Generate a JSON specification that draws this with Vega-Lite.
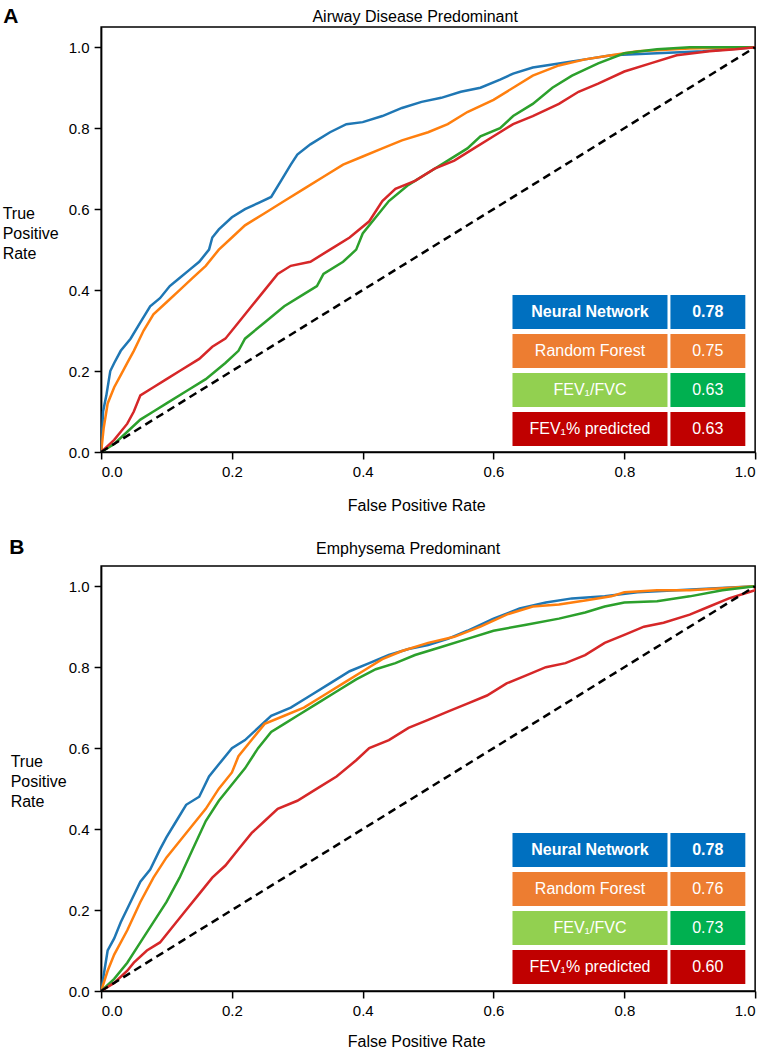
{
  "$schema": "https://vega.github.io/schema/vega-lite/v6.json",
  "padding": {"left": 1, "top": 5, "right": 5, "bottom": 3},
  "config": {
    "font": "Liberation Sans",
    "view": {"stroke": "black", "strokeWidth": 1.5},
    "axis": {"grid": false, "domainColor": "black", "domainWidth": 1.5, "tickColor": "black", "tickWidth": 1.5, "tickSize": 7, "labelColor": "black", "labelFontSize": 15, "labelPadding": 5, "titleColor": "black", "titleFontSize": 16, "titleFontWeight": "normal"},
    "title": {"fontSize": 16, "fontWeight": "normal", "color": "black"}
  },
  "datasets": {
    "diag": [{"fpr": 0, "tpr": 0}, {"fpr": 1, "tpr": 1}],
    "tableA": [
      {"model": "Neural Network", "auc": 0.78},
      {"model": "Random Forest", "auc": 0.75},
      {"model": "FEV₁/FVC", "auc": 0.63},
      {"model": "FEV₁% predicted", "auc": 0.63}
    ],
    "tableB": [
      {"model": "Neural Network", "auc": 0.78},
      {"model": "Random Forest", "auc": 0.76},
      {"model": "FEV₁/FVC", "auc": 0.73},
      {"model": "FEV₁% predicted", "auc": 0.60}
    ],
    "rocA": [
      {"model": "Neural Network", "fpr": 0, "tpr": 0},
      {"model": "Neural Network", "fpr": 0.003, "tpr": 0.1},
      {"model": "Neural Network", "fpr": 0.008, "tpr": 0.14},
      {"model": "Neural Network", "fpr": 0.014, "tpr": 0.2},
      {"model": "Neural Network", "fpr": 0.02, "tpr": 0.22},
      {"model": "Neural Network", "fpr": 0.03, "tpr": 0.25},
      {"model": "Neural Network", "fpr": 0.045, "tpr": 0.28},
      {"model": "Neural Network", "fpr": 0.06, "tpr": 0.32},
      {"model": "Neural Network", "fpr": 0.075, "tpr": 0.36},
      {"model": "Neural Network", "fpr": 0.09, "tpr": 0.38},
      {"model": "Neural Network", "fpr": 0.105, "tpr": 0.41},
      {"model": "Neural Network", "fpr": 0.12, "tpr": 0.43},
      {"model": "Neural Network", "fpr": 0.135, "tpr": 0.45},
      {"model": "Neural Network", "fpr": 0.15, "tpr": 0.47},
      {"model": "Neural Network", "fpr": 0.165, "tpr": 0.5},
      {"model": "Neural Network", "fpr": 0.17, "tpr": 0.53},
      {"model": "Neural Network", "fpr": 0.18, "tpr": 0.55},
      {"model": "Neural Network", "fpr": 0.2, "tpr": 0.58},
      {"model": "Neural Network", "fpr": 0.22, "tpr": 0.6},
      {"model": "Neural Network", "fpr": 0.24, "tpr": 0.615},
      {"model": "Neural Network", "fpr": 0.26, "tpr": 0.63},
      {"model": "Neural Network", "fpr": 0.275, "tpr": 0.67},
      {"model": "Neural Network", "fpr": 0.29, "tpr": 0.71},
      {"model": "Neural Network", "fpr": 0.3, "tpr": 0.735},
      {"model": "Neural Network", "fpr": 0.32, "tpr": 0.76},
      {"model": "Neural Network", "fpr": 0.35, "tpr": 0.79},
      {"model": "Neural Network", "fpr": 0.375, "tpr": 0.81},
      {"model": "Neural Network", "fpr": 0.4, "tpr": 0.815},
      {"model": "Neural Network", "fpr": 0.43, "tpr": 0.83},
      {"model": "Neural Network", "fpr": 0.46, "tpr": 0.85},
      {"model": "Neural Network", "fpr": 0.49, "tpr": 0.865},
      {"model": "Neural Network", "fpr": 0.52, "tpr": 0.875},
      {"model": "Neural Network", "fpr": 0.55, "tpr": 0.89},
      {"model": "Neural Network", "fpr": 0.58, "tpr": 0.9},
      {"model": "Neural Network", "fpr": 0.61, "tpr": 0.92},
      {"model": "Neural Network", "fpr": 0.63, "tpr": 0.935},
      {"model": "Neural Network", "fpr": 0.66, "tpr": 0.95},
      {"model": "Neural Network", "fpr": 0.7, "tpr": 0.96},
      {"model": "Neural Network", "fpr": 0.74, "tpr": 0.97},
      {"model": "Neural Network", "fpr": 0.78, "tpr": 0.98},
      {"model": "Neural Network", "fpr": 0.85, "tpr": 0.985},
      {"model": "Neural Network", "fpr": 0.92, "tpr": 0.99},
      {"model": "Neural Network", "fpr": 1, "tpr": 1},
      {"model": "Random Forest", "fpr": 0, "tpr": 0},
      {"model": "Random Forest", "fpr": 0.004, "tpr": 0.06},
      {"model": "Random Forest", "fpr": 0.01, "tpr": 0.12},
      {"model": "Random Forest", "fpr": 0.02, "tpr": 0.16},
      {"model": "Random Forest", "fpr": 0.03, "tpr": 0.19},
      {"model": "Random Forest", "fpr": 0.04, "tpr": 0.22},
      {"model": "Random Forest", "fpr": 0.05, "tpr": 0.25},
      {"model": "Random Forest", "fpr": 0.065, "tpr": 0.3},
      {"model": "Random Forest", "fpr": 0.08, "tpr": 0.34},
      {"model": "Random Forest", "fpr": 0.1, "tpr": 0.37},
      {"model": "Random Forest", "fpr": 0.12, "tpr": 0.4},
      {"model": "Random Forest", "fpr": 0.14, "tpr": 0.43},
      {"model": "Random Forest", "fpr": 0.16, "tpr": 0.46},
      {"model": "Random Forest", "fpr": 0.18, "tpr": 0.5},
      {"model": "Random Forest", "fpr": 0.2, "tpr": 0.53},
      {"model": "Random Forest", "fpr": 0.22, "tpr": 0.56},
      {"model": "Random Forest", "fpr": 0.25, "tpr": 0.59},
      {"model": "Random Forest", "fpr": 0.28, "tpr": 0.62},
      {"model": "Random Forest", "fpr": 0.31, "tpr": 0.65},
      {"model": "Random Forest", "fpr": 0.34, "tpr": 0.68},
      {"model": "Random Forest", "fpr": 0.37, "tpr": 0.71},
      {"model": "Random Forest", "fpr": 0.4, "tpr": 0.73},
      {"model": "Random Forest", "fpr": 0.43, "tpr": 0.75},
      {"model": "Random Forest", "fpr": 0.46, "tpr": 0.77},
      {"model": "Random Forest", "fpr": 0.5, "tpr": 0.79},
      {"model": "Random Forest", "fpr": 0.53, "tpr": 0.81},
      {"model": "Random Forest", "fpr": 0.56, "tpr": 0.84},
      {"model": "Random Forest", "fpr": 0.6, "tpr": 0.87},
      {"model": "Random Forest", "fpr": 0.63, "tpr": 0.9},
      {"model": "Random Forest", "fpr": 0.66, "tpr": 0.93},
      {"model": "Random Forest", "fpr": 0.7, "tpr": 0.955},
      {"model": "Random Forest", "fpr": 0.74, "tpr": 0.97},
      {"model": "Random Forest", "fpr": 0.78, "tpr": 0.98},
      {"model": "Random Forest", "fpr": 0.82, "tpr": 0.99},
      {"model": "Random Forest", "fpr": 0.9, "tpr": 0.997},
      {"model": "Random Forest", "fpr": 1, "tpr": 1},
      {"model": "FEV₁/FVC", "fpr": 0, "tpr": 0},
      {"model": "FEV₁/FVC", "fpr": 0.02, "tpr": 0.02},
      {"model": "FEV₁/FVC", "fpr": 0.04, "tpr": 0.05},
      {"model": "FEV₁/FVC", "fpr": 0.06, "tpr": 0.08},
      {"model": "FEV₁/FVC", "fpr": 0.08, "tpr": 0.1},
      {"model": "FEV₁/FVC", "fpr": 0.1, "tpr": 0.12},
      {"model": "FEV₁/FVC", "fpr": 0.13, "tpr": 0.15},
      {"model": "FEV₁/FVC", "fpr": 0.16, "tpr": 0.18},
      {"model": "FEV₁/FVC", "fpr": 0.19, "tpr": 0.22},
      {"model": "FEV₁/FVC", "fpr": 0.21, "tpr": 0.25},
      {"model": "FEV₁/FVC", "fpr": 0.22, "tpr": 0.28},
      {"model": "FEV₁/FVC", "fpr": 0.25, "tpr": 0.32},
      {"model": "FEV₁/FVC", "fpr": 0.28, "tpr": 0.36},
      {"model": "FEV₁/FVC", "fpr": 0.31, "tpr": 0.39},
      {"model": "FEV₁/FVC", "fpr": 0.33, "tpr": 0.41},
      {"model": "FEV₁/FVC", "fpr": 0.34, "tpr": 0.44},
      {"model": "FEV₁/FVC", "fpr": 0.37, "tpr": 0.47},
      {"model": "FEV₁/FVC", "fpr": 0.39, "tpr": 0.5},
      {"model": "FEV₁/FVC", "fpr": 0.4, "tpr": 0.54},
      {"model": "FEV₁/FVC", "fpr": 0.42, "tpr": 0.58},
      {"model": "FEV₁/FVC", "fpr": 0.44, "tpr": 0.62},
      {"model": "FEV₁/FVC", "fpr": 0.47, "tpr": 0.66},
      {"model": "FEV₁/FVC", "fpr": 0.5, "tpr": 0.69},
      {"model": "FEV₁/FVC", "fpr": 0.53, "tpr": 0.72},
      {"model": "FEV₁/FVC", "fpr": 0.56, "tpr": 0.75},
      {"model": "FEV₁/FVC", "fpr": 0.58, "tpr": 0.78},
      {"model": "FEV₁/FVC", "fpr": 0.61, "tpr": 0.8},
      {"model": "FEV₁/FVC", "fpr": 0.63, "tpr": 0.83},
      {"model": "FEV₁/FVC", "fpr": 0.66, "tpr": 0.86},
      {"model": "FEV₁/FVC", "fpr": 0.69, "tpr": 0.9},
      {"model": "FEV₁/FVC", "fpr": 0.72, "tpr": 0.93},
      {"model": "FEV₁/FVC", "fpr": 0.76, "tpr": 0.96},
      {"model": "FEV₁/FVC", "fpr": 0.8, "tpr": 0.985},
      {"model": "FEV₁/FVC", "fpr": 0.85, "tpr": 0.995},
      {"model": "FEV₁/FVC", "fpr": 0.9, "tpr": 1},
      {"model": "FEV₁/FVC", "fpr": 1, "tpr": 1},
      {"model": "FEV₁% predicted", "fpr": 0, "tpr": 0},
      {"model": "FEV₁% predicted", "fpr": 0.02, "tpr": 0.03},
      {"model": "FEV₁% predicted", "fpr": 0.04, "tpr": 0.07},
      {"model": "FEV₁% predicted", "fpr": 0.05, "tpr": 0.1},
      {"model": "FEV₁% predicted", "fpr": 0.06, "tpr": 0.14},
      {"model": "FEV₁% predicted", "fpr": 0.08, "tpr": 0.16},
      {"model": "FEV₁% predicted", "fpr": 0.1, "tpr": 0.18},
      {"model": "FEV₁% predicted", "fpr": 0.12, "tpr": 0.2},
      {"model": "FEV₁% predicted", "fpr": 0.15, "tpr": 0.23},
      {"model": "FEV₁% predicted", "fpr": 0.17, "tpr": 0.26},
      {"model": "FEV₁% predicted", "fpr": 0.19, "tpr": 0.28},
      {"model": "FEV₁% predicted", "fpr": 0.21, "tpr": 0.32},
      {"model": "FEV₁% predicted", "fpr": 0.23, "tpr": 0.36},
      {"model": "FEV₁% predicted", "fpr": 0.25, "tpr": 0.4},
      {"model": "FEV₁% predicted", "fpr": 0.27, "tpr": 0.44},
      {"model": "FEV₁% predicted", "fpr": 0.29, "tpr": 0.46},
      {"model": "FEV₁% predicted", "fpr": 0.32, "tpr": 0.47},
      {"model": "FEV₁% predicted", "fpr": 0.35, "tpr": 0.5},
      {"model": "FEV₁% predicted", "fpr": 0.38, "tpr": 0.53},
      {"model": "FEV₁% predicted", "fpr": 0.41, "tpr": 0.57},
      {"model": "FEV₁% predicted", "fpr": 0.43, "tpr": 0.62},
      {"model": "FEV₁% predicted", "fpr": 0.45, "tpr": 0.65},
      {"model": "FEV₁% predicted", "fpr": 0.48, "tpr": 0.67},
      {"model": "FEV₁% predicted", "fpr": 0.51, "tpr": 0.7},
      {"model": "FEV₁% predicted", "fpr": 0.54, "tpr": 0.72},
      {"model": "FEV₁% predicted", "fpr": 0.57, "tpr": 0.75},
      {"model": "FEV₁% predicted", "fpr": 0.6, "tpr": 0.78},
      {"model": "FEV₁% predicted", "fpr": 0.63, "tpr": 0.81},
      {"model": "FEV₁% predicted", "fpr": 0.66, "tpr": 0.83},
      {"model": "FEV₁% predicted", "fpr": 0.7, "tpr": 0.86},
      {"model": "FEV₁% predicted", "fpr": 0.73, "tpr": 0.89},
      {"model": "FEV₁% predicted", "fpr": 0.76, "tpr": 0.91},
      {"model": "FEV₁% predicted", "fpr": 0.8, "tpr": 0.94},
      {"model": "FEV₁% predicted", "fpr": 0.84, "tpr": 0.96},
      {"model": "FEV₁% predicted", "fpr": 0.88, "tpr": 0.98},
      {"model": "FEV₁% predicted", "fpr": 0.93, "tpr": 0.99},
      {"model": "FEV₁% predicted", "fpr": 0.97, "tpr": 0.995},
      {"model": "FEV₁% predicted", "fpr": 1, "tpr": 1}
    ],
    "rocB": [
      {"model": "Neural Network", "fpr": 0, "tpr": 0},
      {"model": "Neural Network", "fpr": 0.005, "tpr": 0.05},
      {"model": "Neural Network", "fpr": 0.01, "tpr": 0.1},
      {"model": "Neural Network", "fpr": 0.02, "tpr": 0.13},
      {"model": "Neural Network", "fpr": 0.03, "tpr": 0.17},
      {"model": "Neural Network", "fpr": 0.045, "tpr": 0.22},
      {"model": "Neural Network", "fpr": 0.06, "tpr": 0.27},
      {"model": "Neural Network", "fpr": 0.075, "tpr": 0.3},
      {"model": "Neural Network", "fpr": 0.09, "tpr": 0.35},
      {"model": "Neural Network", "fpr": 0.1, "tpr": 0.38},
      {"model": "Neural Network", "fpr": 0.115, "tpr": 0.42},
      {"model": "Neural Network", "fpr": 0.13, "tpr": 0.46},
      {"model": "Neural Network", "fpr": 0.15, "tpr": 0.48},
      {"model": "Neural Network", "fpr": 0.165, "tpr": 0.53},
      {"model": "Neural Network", "fpr": 0.18, "tpr": 0.56},
      {"model": "Neural Network", "fpr": 0.2, "tpr": 0.6},
      {"model": "Neural Network", "fpr": 0.22, "tpr": 0.62},
      {"model": "Neural Network", "fpr": 0.24, "tpr": 0.65},
      {"model": "Neural Network", "fpr": 0.26, "tpr": 0.68},
      {"model": "Neural Network", "fpr": 0.29, "tpr": 0.7},
      {"model": "Neural Network", "fpr": 0.32, "tpr": 0.73},
      {"model": "Neural Network", "fpr": 0.35, "tpr": 0.76},
      {"model": "Neural Network", "fpr": 0.38, "tpr": 0.79},
      {"model": "Neural Network", "fpr": 0.41, "tpr": 0.81},
      {"model": "Neural Network", "fpr": 0.44, "tpr": 0.83},
      {"model": "Neural Network", "fpr": 0.47, "tpr": 0.845},
      {"model": "Neural Network", "fpr": 0.5, "tpr": 0.855},
      {"model": "Neural Network", "fpr": 0.53, "tpr": 0.87},
      {"model": "Neural Network", "fpr": 0.56, "tpr": 0.89},
      {"model": "Neural Network", "fpr": 0.6, "tpr": 0.92},
      {"model": "Neural Network", "fpr": 0.64, "tpr": 0.945},
      {"model": "Neural Network", "fpr": 0.68, "tpr": 0.96},
      {"model": "Neural Network", "fpr": 0.72, "tpr": 0.97},
      {"model": "Neural Network", "fpr": 0.77, "tpr": 0.975},
      {"model": "Neural Network", "fpr": 0.82, "tpr": 0.985},
      {"model": "Neural Network", "fpr": 0.88, "tpr": 0.99},
      {"model": "Neural Network", "fpr": 0.94, "tpr": 0.995},
      {"model": "Neural Network", "fpr": 1, "tpr": 1},
      {"model": "Random Forest", "fpr": 0, "tpr": 0},
      {"model": "Random Forest", "fpr": 0.01, "tpr": 0.05},
      {"model": "Random Forest", "fpr": 0.02, "tpr": 0.09},
      {"model": "Random Forest", "fpr": 0.04, "tpr": 0.15},
      {"model": "Random Forest", "fpr": 0.06, "tpr": 0.22},
      {"model": "Random Forest", "fpr": 0.08, "tpr": 0.28},
      {"model": "Random Forest", "fpr": 0.1, "tpr": 0.33},
      {"model": "Random Forest", "fpr": 0.12, "tpr": 0.37},
      {"model": "Random Forest", "fpr": 0.14, "tpr": 0.41},
      {"model": "Random Forest", "fpr": 0.16, "tpr": 0.45},
      {"model": "Random Forest", "fpr": 0.18, "tpr": 0.5},
      {"model": "Random Forest", "fpr": 0.2, "tpr": 0.54},
      {"model": "Random Forest", "fpr": 0.21, "tpr": 0.58},
      {"model": "Random Forest", "fpr": 0.23, "tpr": 0.62},
      {"model": "Random Forest", "fpr": 0.25, "tpr": 0.66},
      {"model": "Random Forest", "fpr": 0.28, "tpr": 0.68},
      {"model": "Random Forest", "fpr": 0.31, "tpr": 0.7},
      {"model": "Random Forest", "fpr": 0.34, "tpr": 0.73},
      {"model": "Random Forest", "fpr": 0.37, "tpr": 0.76},
      {"model": "Random Forest", "fpr": 0.4, "tpr": 0.79},
      {"model": "Random Forest", "fpr": 0.43, "tpr": 0.82},
      {"model": "Random Forest", "fpr": 0.46, "tpr": 0.84},
      {"model": "Random Forest", "fpr": 0.5, "tpr": 0.86},
      {"model": "Random Forest", "fpr": 0.54, "tpr": 0.875},
      {"model": "Random Forest", "fpr": 0.58, "tpr": 0.9},
      {"model": "Random Forest", "fpr": 0.62, "tpr": 0.93},
      {"model": "Random Forest", "fpr": 0.66, "tpr": 0.95},
      {"model": "Random Forest", "fpr": 0.7, "tpr": 0.955},
      {"model": "Random Forest", "fpr": 0.74, "tpr": 0.965},
      {"model": "Random Forest", "fpr": 0.78, "tpr": 0.975},
      {"model": "Random Forest", "fpr": 0.8, "tpr": 0.985},
      {"model": "Random Forest", "fpr": 0.85, "tpr": 0.99},
      {"model": "Random Forest", "fpr": 0.9, "tpr": 0.99},
      {"model": "Random Forest", "fpr": 0.95, "tpr": 0.995},
      {"model": "Random Forest", "fpr": 1, "tpr": 1},
      {"model": "FEV₁/FVC", "fpr": 0, "tpr": 0},
      {"model": "FEV₁/FVC", "fpr": 0.02, "tpr": 0.03},
      {"model": "FEV₁/FVC", "fpr": 0.04, "tpr": 0.07},
      {"model": "FEV₁/FVC", "fpr": 0.06, "tpr": 0.12},
      {"model": "FEV₁/FVC", "fpr": 0.08, "tpr": 0.17},
      {"model": "FEV₁/FVC", "fpr": 0.1, "tpr": 0.22},
      {"model": "FEV₁/FVC", "fpr": 0.12, "tpr": 0.28},
      {"model": "FEV₁/FVC", "fpr": 0.14, "tpr": 0.35},
      {"model": "FEV₁/FVC", "fpr": 0.16, "tpr": 0.42},
      {"model": "FEV₁/FVC", "fpr": 0.18, "tpr": 0.47},
      {"model": "FEV₁/FVC", "fpr": 0.2, "tpr": 0.51},
      {"model": "FEV₁/FVC", "fpr": 0.22, "tpr": 0.55},
      {"model": "FEV₁/FVC", "fpr": 0.24, "tpr": 0.6},
      {"model": "FEV₁/FVC", "fpr": 0.26, "tpr": 0.64},
      {"model": "FEV₁/FVC", "fpr": 0.28, "tpr": 0.66},
      {"model": "FEV₁/FVC", "fpr": 0.3, "tpr": 0.68},
      {"model": "FEV₁/FVC", "fpr": 0.33, "tpr": 0.71},
      {"model": "FEV₁/FVC", "fpr": 0.36, "tpr": 0.74},
      {"model": "FEV₁/FVC", "fpr": 0.39, "tpr": 0.77},
      {"model": "FEV₁/FVC", "fpr": 0.42, "tpr": 0.795},
      {"model": "FEV₁/FVC", "fpr": 0.45, "tpr": 0.81},
      {"model": "FEV₁/FVC", "fpr": 0.48, "tpr": 0.83},
      {"model": "FEV₁/FVC", "fpr": 0.52, "tpr": 0.85},
      {"model": "FEV₁/FVC", "fpr": 0.56, "tpr": 0.87},
      {"model": "FEV₁/FVC", "fpr": 0.6, "tpr": 0.89},
      {"model": "FEV₁/FVC", "fpr": 0.65, "tpr": 0.905},
      {"model": "FEV₁/FVC", "fpr": 0.7, "tpr": 0.92},
      {"model": "FEV₁/FVC", "fpr": 0.74, "tpr": 0.935},
      {"model": "FEV₁/FVC", "fpr": 0.77, "tpr": 0.95},
      {"model": "FEV₁/FVC", "fpr": 0.8, "tpr": 0.96},
      {"model": "FEV₁/FVC", "fpr": 0.85, "tpr": 0.963},
      {"model": "FEV₁/FVC", "fpr": 0.9, "tpr": 0.975},
      {"model": "FEV₁/FVC", "fpr": 0.95, "tpr": 0.99},
      {"model": "FEV₁/FVC", "fpr": 1, "tpr": 1},
      {"model": "FEV₁% predicted", "fpr": 0, "tpr": 0},
      {"model": "FEV₁% predicted", "fpr": 0.02, "tpr": 0.02},
      {"model": "FEV₁% predicted", "fpr": 0.04, "tpr": 0.05},
      {"model": "FEV₁% predicted", "fpr": 0.05, "tpr": 0.07},
      {"model": "FEV₁% predicted", "fpr": 0.07, "tpr": 0.1},
      {"model": "FEV₁% predicted", "fpr": 0.09, "tpr": 0.12},
      {"model": "FEV₁% predicted", "fpr": 0.11, "tpr": 0.16},
      {"model": "FEV₁% predicted", "fpr": 0.13, "tpr": 0.2},
      {"model": "FEV₁% predicted", "fpr": 0.15, "tpr": 0.24},
      {"model": "FEV₁% predicted", "fpr": 0.17, "tpr": 0.28},
      {"model": "FEV₁% predicted", "fpr": 0.19, "tpr": 0.31},
      {"model": "FEV₁% predicted", "fpr": 0.21, "tpr": 0.35},
      {"model": "FEV₁% predicted", "fpr": 0.23, "tpr": 0.39},
      {"model": "FEV₁% predicted", "fpr": 0.25, "tpr": 0.42},
      {"model": "FEV₁% predicted", "fpr": 0.27, "tpr": 0.45},
      {"model": "FEV₁% predicted", "fpr": 0.3, "tpr": 0.47},
      {"model": "FEV₁% predicted", "fpr": 0.33, "tpr": 0.5},
      {"model": "FEV₁% predicted", "fpr": 0.36, "tpr": 0.53},
      {"model": "FEV₁% predicted", "fpr": 0.39, "tpr": 0.57},
      {"model": "FEV₁% predicted", "fpr": 0.41, "tpr": 0.6},
      {"model": "FEV₁% predicted", "fpr": 0.44, "tpr": 0.62},
      {"model": "FEV₁% predicted", "fpr": 0.47, "tpr": 0.65},
      {"model": "FEV₁% predicted", "fpr": 0.5, "tpr": 0.67},
      {"model": "FEV₁% predicted", "fpr": 0.53, "tpr": 0.69},
      {"model": "FEV₁% predicted", "fpr": 0.56, "tpr": 0.71},
      {"model": "FEV₁% predicted", "fpr": 0.59, "tpr": 0.73},
      {"model": "FEV₁% predicted", "fpr": 0.62, "tpr": 0.76},
      {"model": "FEV₁% predicted", "fpr": 0.65, "tpr": 0.78},
      {"model": "FEV₁% predicted", "fpr": 0.68, "tpr": 0.8},
      {"model": "FEV₁% predicted", "fpr": 0.71, "tpr": 0.81},
      {"model": "FEV₁% predicted", "fpr": 0.74, "tpr": 0.83},
      {"model": "FEV₁% predicted", "fpr": 0.77, "tpr": 0.86},
      {"model": "FEV₁% predicted", "fpr": 0.8, "tpr": 0.88},
      {"model": "FEV₁% predicted", "fpr": 0.83, "tpr": 0.9},
      {"model": "FEV₁% predicted", "fpr": 0.86, "tpr": 0.91},
      {"model": "FEV₁% predicted", "fpr": 0.9, "tpr": 0.93},
      {"model": "FEV₁% predicted", "fpr": 0.93, "tpr": 0.95},
      {"model": "FEV₁% predicted", "fpr": 0.96, "tpr": 0.97},
      {"model": "FEV₁% predicted", "fpr": 0.99, "tpr": 0.985},
      {"model": "FEV₁% predicted", "fpr": 1, "tpr": 0.99},
      {"model": "FEV₁% predicted", "fpr": 1, "tpr": 1}
    ]
  },
  "spacing": 22,
  "center": true,
  "vconcat": [
    {
      "width": 654,
      "height": 425,
      "title": {"text": "Airway Disease Predominant", "anchor": "middle", "dx": -13, "offset": -32, "baseline": "alphabetic"},
      "layer": [
        {
          "layer": [
            {
              "data": {"name": "rocA"},
              "mark": {"type": "line", "strokeWidth": 2.5, "clip": true},
              "encoding": {
                "x": {"field": "fpr", "type": "quantitative", "scale": {"domain": [0, 1], "nice": false, "zero": false},
                      "axis": {"values": [0, 0.2, 0.4, 0.6, 0.8, 1], "format": ".1f", "title": "False Positive Rate", "titleX": 315, "titleY": 53, "titleBaseline": "middle", "titleAlign": "center"}},
                "y": {"field": "tpr", "type": "quantitative", "scale": {"domain": [0, 1.05], "nice": false, "zero": false},
                      "axis": {"values": [0, 0.2, 0.4, 0.6, 0.8, 1], "format": ".1f", "title": ["True", "Positive", "Rate"], "titleAngle": 0, "titleAlign": "left", "titleBaseline": "middle", "titleX": -99, "titleY": 186, "titleLineHeight": 20}},
                "color": {"field": "model", "type": "nominal", "sort": null,
                          "scale": {"domain": ["Neural Network", "Random Forest", "FEV₁/FVC", "FEV₁% predicted"], "range": ["#1f77b4", "#ff7f0e", "#2ca02c", "#d62728"]},
                          "legend": null}
              }
            },
            {
              "data": {"name": "diag"},
              "mark": {"type": "line", "color": "black", "strokeWidth": 2.5, "strokeDash": [8, 5]},
              "encoding": {"x": {"field": "fpr", "type": "quantitative"}, "y": {"field": "tpr", "type": "quantitative"}}
            },
            {
              "data": {"values": [{"panel": "A"}]},
              "mark": {"type": "text", "fontSize": 21, "fontWeight": "bold", "align": "center", "baseline": "alphabetic", "color": "black"},
              "encoding": {"x": {"datum": -0.138}, "y": {"datum": 1.059}, "text": {"field": "panel"}}
            }
          ]
        },
        {
          "data": {"name": "tableA"},
          "encoding": {
            "y": {"field": "model", "type": "nominal", "scale": {"type": "band", "domain": ["Neural Network", "Random Forest", "FEV₁/FVC", "FEV₁% predicted"], "range": [268, 419], "paddingInner": 0.13, "paddingOuter": 0}, "axis": null}
          },
          "layer": [
            {
              "mark": {"type": "rect"},
              "encoding": {
                "x": {"datum": 0.629}, "x2": {"datum": 0.866},
                "color": {"field": "model", "type": "nominal", "scale": {"domain": ["Neural Network", "Random Forest", "FEV₁/FVC", "FEV₁% predicted"], "range": ["#0070C0", "#ED7D31", "#92D050", "#C00000"]}, "legend": null}
              }
            },
            {
              "mark": {"type": "rect"},
              "encoding": {
                "x": {"datum": 0.8705}, "x2": {"datum": 0.985},
                "color": {"field": "model", "type": "nominal", "scale": {"domain": ["Neural Network", "Random Forest", "FEV₁/FVC", "FEV₁% predicted"], "range": ["#0070C0", "#ED7D31", "#00B050", "#C00000"]}, "legend": null}
              }
            },
            {
              "transform": [{"filter": "datum.model === 'Neural Network'"}],
              "mark": {"type": "text", "color": "white", "fontSize": 16, "fontWeight": "bold", "baseline": "middle", "align": "center"},
              "encoding": {"x": {"datum": 0.7475}, "y": {"field": "model", "type": "nominal", "bandPosition": 0.5}, "text": {"field": "model"}}
            },
            {
              "transform": [{"filter": "datum.model !== 'Neural Network'"}],
              "mark": {"type": "text", "color": "white", "fontSize": 16, "baseline": "middle", "align": "center"},
              "encoding": {"x": {"datum": 0.7475}, "y": {"field": "model", "type": "nominal", "bandPosition": 0.5}, "text": {"field": "model"}}
            },
            {
              "transform": [{"filter": "datum.model === 'Neural Network'"}],
              "mark": {"type": "text", "color": "white", "fontSize": 16, "fontWeight": "bold", "baseline": "middle", "align": "center"},
              "encoding": {"x": {"datum": 0.9275}, "y": {"field": "model", "type": "nominal", "bandPosition": 0.5}, "text": {"field": "auc", "type": "quantitative", "format": ".2f"}}
            },
            {
              "transform": [{"filter": "datum.model !== 'Neural Network'"}],
              "mark": {"type": "text", "color": "white", "fontSize": 16, "baseline": "middle", "align": "center"},
              "encoding": {"x": {"datum": 0.9275}, "y": {"field": "model", "type": "nominal", "bandPosition": 0.5}, "text": {"field": "auc", "type": "quantitative", "format": ".2f"}}
            }
          ],
          "resolve": {"scale": {"color": "independent"}}
        }
      ],
      "resolve": {"scale": {"y": "independent", "color": "independent"}}
    },
    {
      "width": 654,
      "height": 425,
      "title": {"text": "Emphysema Predominant", "anchor": "middle", "dx": -20, "offset": -33, "baseline": "alphabetic"},
      "layer": [
        {
          "layer": [
            {
              "data": {"name": "rocB"},
              "mark": {"type": "line", "strokeWidth": 2.5, "clip": true},
              "encoding": {
                "x": {"field": "fpr", "type": "quantitative", "scale": {"domain": [0, 1], "nice": false, "zero": false},
                      "axis": {"values": [0, 0.2, 0.4, 0.6, 0.8, 1], "format": ".1f", "title": "False Positive Rate", "titleX": 315, "titleY": 50, "titleBaseline": "middle", "titleAlign": "center"}},
                "y": {"field": "tpr", "type": "quantitative", "scale": {"domain": [0, 1.05], "nice": false, "zero": false},
                      "axis": {"values": [0, 0.2, 0.4, 0.6, 0.8, 1], "format": ".1f", "title": ["True", "Positive", "Rate"], "titleAngle": 0, "titleAlign": "left", "titleBaseline": "middle", "titleX": -91, "titleY": 195, "titleLineHeight": 20}},
                "color": {"field": "model", "type": "nominal", "sort": null,
                          "scale": {"domain": ["Neural Network", "Random Forest", "FEV₁/FVC", "FEV₁% predicted"], "range": ["#1f77b4", "#ff7f0e", "#2ca02c", "#d62728"]},
                          "legend": null}
              }
            },
            {
              "data": {"name": "diag"},
              "mark": {"type": "line", "color": "black", "strokeWidth": 2.5, "strokeDash": [8, 5]},
              "encoding": {"x": {"field": "fpr", "type": "quantitative"}, "y": {"field": "tpr", "type": "quantitative"}}
            },
            {
              "data": {"values": [{"panel": "B"}]},
              "mark": {"type": "text", "fontSize": 21, "fontWeight": "bold", "align": "center", "baseline": "alphabetic", "color": "black"},
              "encoding": {"x": {"datum": -0.129}, "y": {"datum": 1.08}, "text": {"field": "panel"}}
            }
          ]
        },
        {
          "data": {"name": "tableB"},
          "encoding": {
            "y": {"field": "model", "type": "nominal", "scale": {"type": "band", "domain": ["Neural Network", "Random Forest", "FEV₁/FVC", "FEV₁% predicted"], "range": [267, 418], "paddingInner": 0.13, "paddingOuter": 0}, "axis": null}
          },
          "layer": [
            {
              "mark": {"type": "rect"},
              "encoding": {
                "x": {"datum": 0.629}, "x2": {"datum": 0.866},
                "color": {"field": "model", "type": "nominal", "scale": {"domain": ["Neural Network", "Random Forest", "FEV₁/FVC", "FEV₁% predicted"], "range": ["#0070C0", "#ED7D31", "#92D050", "#C00000"]}, "legend": null}
              }
            },
            {
              "mark": {"type": "rect"},
              "encoding": {
                "x": {"datum": 0.8705}, "x2": {"datum": 0.985},
                "color": {"field": "model", "type": "nominal", "scale": {"domain": ["Neural Network", "Random Forest", "FEV₁/FVC", "FEV₁% predicted"], "range": ["#0070C0", "#ED7D31", "#00B050", "#C00000"]}, "legend": null}
              }
            },
            {
              "transform": [{"filter": "datum.model === 'Neural Network'"}],
              "mark": {"type": "text", "color": "white", "fontSize": 16, "fontWeight": "bold", "baseline": "middle", "align": "center"},
              "encoding": {"x": {"datum": 0.7475}, "y": {"field": "model", "type": "nominal", "bandPosition": 0.5}, "text": {"field": "model"}}
            },
            {
              "transform": [{"filter": "datum.model !== 'Neural Network'"}],
              "mark": {"type": "text", "color": "white", "fontSize": 16, "baseline": "middle", "align": "center"},
              "encoding": {"x": {"datum": 0.7475}, "y": {"field": "model", "type": "nominal", "bandPosition": 0.5}, "text": {"field": "model"}}
            },
            {
              "transform": [{"filter": "datum.model === 'Neural Network'"}],
              "mark": {"type": "text", "color": "white", "fontSize": 16, "fontWeight": "bold", "baseline": "middle", "align": "center"},
              "encoding": {"x": {"datum": 0.9275}, "y": {"field": "model", "type": "nominal", "bandPosition": 0.5}, "text": {"field": "auc", "type": "quantitative", "format": ".2f"}}
            },
            {
              "transform": [{"filter": "datum.model !== 'Neural Network'"}],
              "mark": {"type": "text", "color": "white", "fontSize": 16, "baseline": "middle", "align": "center"},
              "encoding": {"x": {"datum": 0.9275}, "y": {"field": "model", "type": "nominal", "bandPosition": 0.5}, "text": {"field": "auc", "type": "quantitative", "format": ".2f"}}
            }
          ],
          "resolve": {"scale": {"color": "independent"}}
        }
      ],
      "resolve": {"scale": {"y": "independent", "color": "independent"}}
    }
  ]
}
